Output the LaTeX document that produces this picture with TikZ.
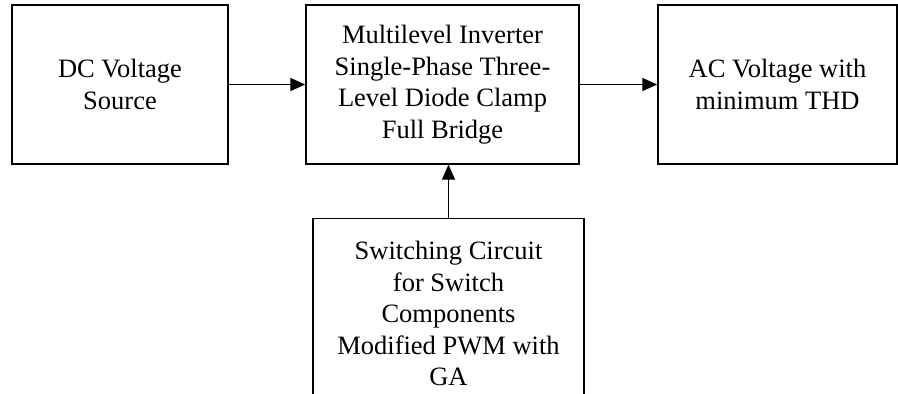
\documentclass[tikz,border=0pt]{standalone}
\usepackage{fontspec}
\setmainfont{Liberation Serif}
\usetikzlibrary{positioning,arrows.meta}
\tikzset{blk/.style={draw,line width=1.4pt,align=center,inner sep=0pt,minimum width=#1,minimum height=159pt},
  flow/.style={-{Triangle[length=15pt,width=13pt]},line width=1.3pt}}

\begin{document}
\begin{tikzpicture}[x=1pt,y=-1pt,font=\fontsize{26.5}{31.5}\selectfont]
    \useasboundingbox (0,0) rectangle (898,394);
    \clip (0,0) rectangle (898,394);
    \node[blk=216pt] (dc) at (120,84.5) {DC Voltage\\Source};
    \node[blk=273pt] (inv) at (442.5,84.5) {Multilevel Inverter\\Single-Phase Three-\\Level Diode Clamp\\Full Bridge};
    \node[blk=239pt] (ac) at (777.5,84.5) {AC Voltage with\\minimum THD};
    \node[blk=271pt,minimum height=190pt,anchor=north] (swc) at (448.5,218) {Switching Circuit\\for Switch\\Components\\Modified PWM with\\GA};
    \draw[flow] (dc)--(inv);
    \draw[flow] (inv)--(ac);
    \draw[flow] (swc.north)--(swc.north |- inv.south);
  \end{tikzpicture}
\end{document}
